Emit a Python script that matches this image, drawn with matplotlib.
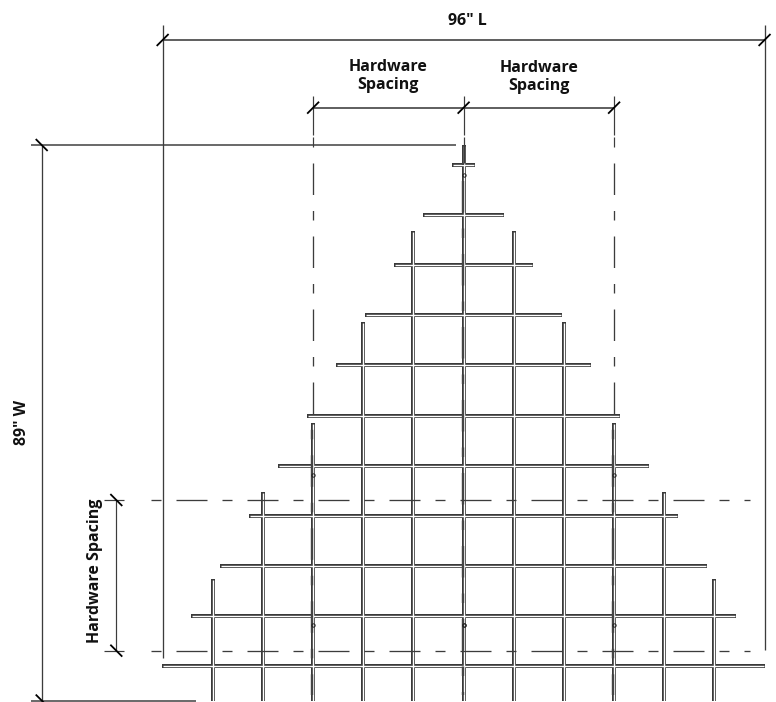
"""Triangular grid panel drawing, all lengths in inches measured from the apex."""
import matplotlib
matplotlib.use("Agg")
import matplotlib.pyplot as plt

plt.rcParams["font.family"] = ["Open Sans", "DejaVu Sans"]
plt.rcParams["lines.scale_dashes"] = False

PX = 6.27  # pixels per inch of the panel
APEX_X = 463.6
APEX_Y = 145.0
W, H = 776, 702

# horizontal rods: height below apex and half length
row_y = [3.15, 11.15, 19.15, 27.15, 35.15, 43.15, 51.15, 59.15, 67.15, 75.15, 83.15]
row_half = [1.87, 6.46, 11.08, 15.71, 20.3, 24.91, 29.57, 34.16, 38.79, 43.41, 48.04]

# vertical rods: offset from centre and top end
col_x = [-40, -32, -24, -16, -8, 0, 8, 16, 24, 32, 40]
col_top = [69.22, 55.39, 44.29, 28.28, 13.76, 0.0, 13.76, 28.28, 44.29, 55.39, 69.22]
col_bottom = 88.68

# overall dimensions
length_x = [-48.0, 48.0]
length_y = -16.75
length_ext_top = -19.14
length_ext_bottom = [81.8, 80.5]
width_x = -67.29
width_y = [0.0, 88.6]
width_ext_left = -69.0
width_ext_right = [-1.2, -42.68]

# hardware positions
hw_x = [-24, 0, 24]
hw_rod_top = [44.29, 0.0, 44.29]
hw_dim_y = -5.95
hw_ext_top = -7.8
hw_y = [56.62, 80.65]
hw_dim_x = -55.39
hw_ext_left = -57.29
hw_dash_start = -49.86
hw_dash_end = 45.68

# small screw holes on the hardware lines
hole_x = [0, -24, 0, 24, -24, 24, 0]
hole_y = [4.75, 52.6, 76.6, 52.6, 76.6, 76.6, 76.6]

ROD_DARK = "#3a3a3a"
DIM_GREY = "#3c3c3c"
px_pt = 0.72
V_DASH = [31.5 * px_pt, 16 * px_pt, 9.5 * px_pt, 16 * px_pt]
H_DASH = [10 * px_pt, 15 * px_pt, 31 * px_pt, 15 * px_pt]
V_DASH_START = 2.87

fig = plt.figure(figsize=(W / 100, H / 100), dpi=100)
ax = fig.add_axes([0, 0, 1, 1])
ax.set_xlim(-APEX_X / PX, (W - APEX_X) / PX)
ax.set_ylim((H - APEX_Y) / PX, -APEX_Y / PX)
ax.axis("off")


def dim(xs, ys, lw=1.0, color=DIM_GREY, **kw):
    ax.plot(xs, ys, color=color, lw=lw * px_pt, solid_capstyle="butt", **kw)


def tick(x, y, back=False):
    d = 0.95
    s = 1 if back else -1
    ax.plot([x - d, x + d], [y - s * d, y + s * d], color="black",
            lw=1.8 * px_pt, solid_capstyle="butt", zorder=6)


# rods: dark casing first, then white core, so that crossings stay open
for y, h in zip(row_y, row_half):
    ax.plot([-h, h], [y, y], color=ROD_DARK, lw=4.0 * px_pt, solid_capstyle="butt", zorder=2)
for x, top in zip(col_x, col_top):
    ax.plot([x, x], [top, col_bottom], color=ROD_DARK, lw=4.0 * px_pt, solid_capstyle="butt", zorder=2)
for y, h in zip(row_y, row_half):
    ax.plot([-h + 0.15, h - 0.15], [y, y], color="white", lw=1.4 * px_pt, solid_capstyle="butt", zorder=3)
for x, top in zip(col_x, col_top):
    ax.plot([x, x], [top + 0.15, col_bottom], color="white", lw=1.4 * px_pt, solid_capstyle="butt", zorder=3)

# overall length
dim(length_x, [length_y, length_y], lw=1.6)
for x, bottom in zip(length_x, length_ext_bottom):
    dim([x, x], [length_ext_top, bottom], lw=1.3)
    tick(x, length_y)

# overall width
dim([width_x, width_x], width_y, lw=1.3)
for y, right in zip(width_y, width_ext_right):
    dim([width_ext_left, right], [y, y], lw=1.5)
    tick(width_x, y, back=True)

# hardware spacing, top
dim([hw_x[0], hw_x[-1]], [hw_dim_y, hw_dim_y], lw=1.6)
for x, rod_top in zip(hw_x, hw_rod_top):
    dim([x, x], [hw_ext_top, -1.6], lw=1.2)
    dim([x, x], [-1.28, 0.32], lw=1.2)
    ax.plot([x, x], [V_DASH_START, rod_top], color=DIM_GREY, lw=1.3 * px_pt, zorder=4,
            linestyle=(0, V_DASH), dash_capstyle="butt")
    # inside the rod the same dashes sit slightly left and read heavier
    phase = (rod_top - V_DASH_START) * PX * px_pt
    ax.plot([x - 0.12, x - 0.12], [max(rod_top, V_DASH_START), 87.7], color="#444444",
            lw=2.4 * px_pt, zorder=4, linestyle=(phase, V_DASH), dash_capstyle="butt")
    tick(x, hw_dim_y)

# hardware spacing, left
dim([hw_dim_x, hw_dim_x], hw_y, lw=1.2)
for y in hw_y:
    dim([hw_ext_left, -54.16], [y, y], lw=1.2)
    ax.plot([hw_dash_start, hw_dash_end], [y, y], color=DIM_GREY, lw=1.3 * px_pt, zorder=4,
            linestyle=(0, H_DASH), dash_capstyle="butt")
    tick(hw_dim_x, y, back=True)

ax.plot(hole_x, hole_y, ls="none", marker="o", ms=2.4, mfc="none", mec="#222222",
        mew=0.7, zorder=5)

# labels
font = dict(fontweight="bold", fontsize=11.5, color="#111111", ha="center", va="center")
ax.text(0.65, -19.85, '96" L', **font)
ax.text(-12.0, -11.0, "Hardware\nSpacing", linespacing=1.15, **font)
ax.text(12.0, -10.8, "Hardware\nSpacing", linespacing=1.15, **font)
ax.text(-70.45, 44.3, '89" W', rotation=90, **font)
ax.text(-58.85, 67.9, "Hardware Spacing", rotation=90, **font)

fig.savefig("out.png", dpi=100)
